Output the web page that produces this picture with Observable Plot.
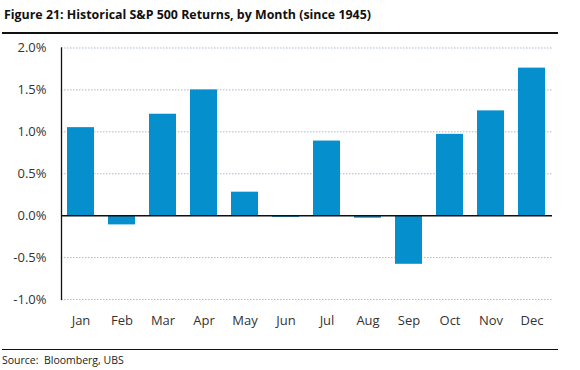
<!DOCTYPE html>
<html><head><meta charset="utf-8">
<script src="https://cdn.jsdelivr.net/npm/d3@7"></script>
<script src="https://cdn.jsdelivr.net/npm/@observablehq/plot@0.6"></script>
<style>
body{margin:0;background:#fff;font-family:"Open Sans",sans-serif;}
#wrap{position:relative;width:580px;height:370px;}
#title{position:absolute;left:4px;top:6px;font-size:12.4px;font-weight:bold;color:#111;}
#rule1{position:absolute;left:2px;top:32px;width:556px;height:2px;background:#111}
#chart{position:absolute;left:0;top:35px}
#rule2{position:absolute;left:2px;top:349px;width:556px;height:1px;background:#111}
#src{position:absolute;left:2px;top:353px;font-size:10.5px;color:#222}
</style></head>
<body><div id="wrap">
<div id="title">Figure 21: Historical S&amp;P 500 Returns, by Month (since 1945)</div>
<div id="rule1"></div>
<div id="chart"></div>
<div id="rule2"></div>
<div id="src">Source:&nbsp; Bloomberg, UBS</div>
</div>
<script>
const months = ["Jan","Feb","Mar","Apr","May","Jun","Jul","Aug","Sep","Oct","Nov","Dec"];
const returns = [1.05, -0.11, 1.21, 1.50, 0.28, -0.02, 0.89, -0.03, -0.58, 0.97, 1.25, 1.76];
const yTicks = [-1.0, -0.5, 0.0, 0.5, 1.0, 1.5, 2.0];
const data = months.map((m, i) => ({month: m, value: returns[i]}));

const chart = Plot.plot({
  width: 580, height: 305,
  marginTop: 12.5, marginBottom: 41, marginLeft: 61, marginRight: 28,
  style: {fontFamily: "'Open Sans', sans-serif", fontSize: "13px", color: "#333"},
  x: {domain: months, paddingInner: 0.33, paddingOuter: 0.15, label: null},
  y: {domain: [-1.0, 2.0], label: null},
  marks: [
    Plot.gridY(yTicks, {stroke: "#9aa6c6", strokeOpacity: 0.8, strokeDasharray: "1.5,1.5", strokeWidth: 1}),
    Plot.barY(data, {x: "month", y: "value", fill: "#058fcd"}),
    Plot.ruleY([0], {stroke: "#111", strokeWidth: 1.5}),
    Plot.frame({anchor: "left", stroke: "#111", strokeWidth: 1.3}),
    Plot.axisY(yTicks, {tickSize: 0, tickPadding: 15, tickFormat: d => d.toFixed(1) + "%", fontSize: 13}),
    Plot.axisX({tickSize: 0, tickPadding: 16, fontSize: 13})
  ]
});
document.getElementById("chart").appendChild(chart);
</script>
</body></html>
